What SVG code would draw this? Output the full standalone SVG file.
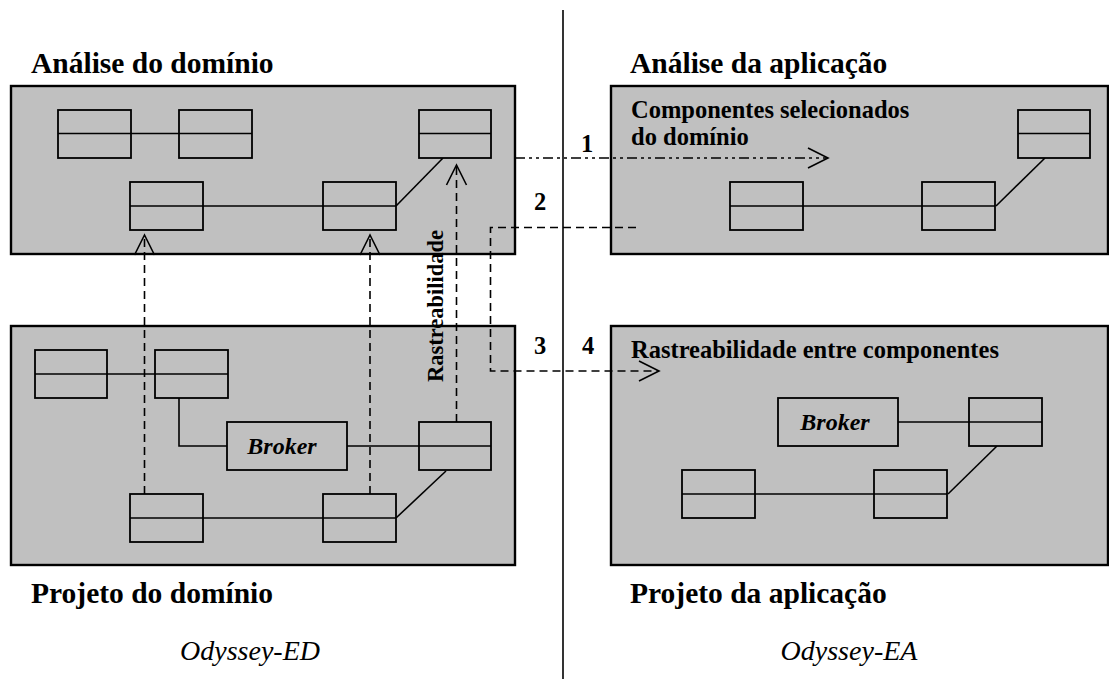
<svg xmlns="http://www.w3.org/2000/svg" width="1109" height="679" viewBox="0 0 1109 679">
<style>
.area{fill:#c0c0c0;stroke:#000;stroke-width:2.4}
.cls{fill:#c0c0c0;stroke:#000;stroke-width:1.8}
.ln{fill:none;stroke:#000;stroke-width:1.6}
.dash{fill:none;stroke:#000;stroke-width:1.6;stroke-dasharray:8,5}
.dd{fill:none;stroke:#000;stroke-width:1.6;stroke-dasharray:10,4,3,4,3,4}
.head{font-family:"Liberation Serif","Times New Roman",serif;font-weight:bold;font-size:29.5px;fill:#000}
.lbl{font-family:"Liberation Serif","Times New Roman",serif;font-weight:bold;font-size:24.5px;fill:#000}
.vert{font-family:"Liberation Serif","Times New Roman",serif;font-weight:bold;font-size:22.5px;fill:#000}
.brk{font-family:"Liberation Serif","Times New Roman",serif;font-weight:bold;font-style:italic;font-size:24px;fill:#000}
.tool{font-family:"Liberation Serif","Times New Roman",serif;font-style:italic;font-size:28px;fill:#000}
</style>
<defs>
<marker id="open" viewBox="0 0 24 24" refX="22" refY="12" markerWidth="24" markerHeight="24" markerUnits="userSpaceOnUse" orient="auto">
<path d="M2,2 L22,12 L2,22" fill="none" stroke="#000" stroke-width="1.6"/>
</marker>
</defs>

<line x1="563" y1="10" x2="563" y2="679" stroke="#000" stroke-width="1.6"/>

<g id="analise-dominio">
<rect class="area" x="11" y="86" width="504" height="168"/>
<text class="head" x="31" y="73">Análise do domínio</text>
</g>
<g id="analise-aplicacao">
<rect class="area" x="611" y="86" width="497" height="168"/>
<text class="head" x="630" y="73">Análise da aplicação</text>
<text class="lbl" x="631" y="118">Componentes selecionados</text>
<text class="lbl" x="631" y="145">do domínio</text>
</g>
<g id="projeto-dominio">
<rect class="area" x="11" y="326" width="504" height="239"/>
<text class="head" x="31" y="603">Projeto do domínio</text>
</g>
<g id="projeto-aplicacao">
<rect class="area" x="611" y="326" width="497" height="239"/>
<text class="head" x="630" y="603">Projeto da aplicação</text>
<text class="lbl" x="631" y="358">Rastreabilidade entre componentes</text>
</g>

<g id="ad-classes">
<line class="ln" x1="131" y1="133.5" x2="179" y2="133.5"/>
<line class="ln" x1="203" y1="206" x2="323" y2="206"/>
<line class="ln" x1="396" y1="206" x2="443" y2="158"/>
<g id="ad-c1"><rect class="cls" x="58" y="110" width="73" height="48"/><line class="ln" x1="58" y1="133.5" x2="131" y2="133.5"/></g>
<g id="ad-c2"><rect class="cls" x="179" y="110" width="73" height="48"/><line class="ln" x1="179" y1="133.5" x2="252" y2="133.5"/></g>
<g id="ad-c3"><rect class="cls" x="419" y="110" width="72" height="48"/><line class="ln" x1="419" y1="133.5" x2="491" y2="133.5"/></g>
<g id="ad-c4"><rect class="cls" x="130" y="182" width="73" height="48"/><line class="ln" x1="130" y1="206" x2="203" y2="206"/></g>
<g id="ad-c5"><rect class="cls" x="323" y="182" width="73" height="48"/><line class="ln" x1="323" y1="206" x2="396" y2="206"/></g>
</g>

<g id="aa-classes">
<line class="ln" x1="803" y1="206" x2="922" y2="206"/>
<line class="ln" x1="996" y1="206" x2="1045" y2="158"/>
<g id="aa-c1"><rect class="cls" x="1018" y="110" width="72" height="48"/><line class="ln" x1="1018" y1="133.5" x2="1090" y2="133.5"/></g>
<g id="aa-c2"><rect class="cls" x="730" y="182" width="73" height="48"/><line class="ln" x1="730" y1="206" x2="803" y2="206"/></g>
<g id="aa-c3"><rect class="cls" x="922" y="182" width="73" height="48"/><line class="ln" x1="922" y1="206" x2="995" y2="206"/></g>
</g>

<g id="pd-classes">
<line class="ln" x1="107" y1="374" x2="155" y2="374"/>
<polyline class="ln" points="179,398 179,446 227,446"/>
<line class="ln" x1="347" y1="446" x2="419" y2="446"/>
<line class="ln" x1="203" y1="518" x2="323" y2="518"/>
<line class="ln" x1="396" y1="518" x2="446" y2="471"/>
<g id="pd-c1"><rect class="cls" x="35" y="350" width="72" height="48"/><line class="ln" x1="35" y1="374" x2="107" y2="374"/></g>
<g id="pd-c2"><rect class="cls" x="155" y="350" width="73" height="48"/><line class="ln" x1="155" y1="374" x2="228" y2="374"/></g>
<g id="pd-broker"><rect class="cls" x="227" y="422" width="120" height="48"/><text class="brk" x="282" y="454" text-anchor="middle">Broker</text></g>
<g id="pd-c3"><rect class="cls" x="419" y="422" width="72" height="48"/><line class="ln" x1="419" y1="446" x2="491" y2="446"/></g>
<g id="pd-c4"><rect class="cls" x="130" y="494" width="73" height="48"/><line class="ln" x1="130" y1="518" x2="203" y2="518"/></g>
<g id="pd-c5"><rect class="cls" x="323" y="494" width="73" height="48"/><line class="ln" x1="323" y1="518" x2="396" y2="518"/></g>
</g>

<g id="pa-classes">
<line class="ln" x1="898" y1="422" x2="969" y2="422"/>
<line class="ln" x1="755" y1="494" x2="874" y2="494"/>
<line class="ln" x1="948" y1="494" x2="997" y2="446"/>
<g id="pa-broker"><rect class="cls" x="778" y="398" width="120" height="48"/><text class="brk" x="835" y="430" text-anchor="middle">Broker</text></g>
<g id="pa-c1"><rect class="cls" x="969" y="398" width="73" height="48"/><line class="ln" x1="969" y1="422" x2="1042" y2="422"/></g>
<g id="pa-c2"><rect class="cls" x="682" y="470" width="73" height="48"/><line class="ln" x1="682" y1="494" x2="755" y2="494"/></g>
<g id="pa-c3"><rect class="cls" x="874" y="470" width="73" height="48"/><line class="ln" x1="874" y1="494" x2="947" y2="494"/></g>
</g>

<g id="connectors">
<line class="dash" x1="144.5" y1="494" x2="144.5" y2="235" marker-end="url(#open)"/>
<line class="dash" x1="370" y1="494" x2="370" y2="235" marker-end="url(#open)"/>
<line class="dash" x1="456.5" y1="422" x2="456.5" y2="165" marker-end="url(#open)"/>
<line class="dd" x1="515" y1="158" x2="828" y2="158" marker-end="url(#open)"/>
<polyline class="dash" points="636,227.5 490.5,227.5 490.5,371 659,371" marker-end="url(#open)"/>
<text class="vert" x="443" y="306" text-anchor="middle" transform="rotate(-90 443 306)">Rastreabilidade</text>
<text class="lbl" x="587" y="152" text-anchor="middle">1</text>
<text class="lbl" x="540" y="210" text-anchor="middle">2</text>
<text class="lbl" x="540" y="354" text-anchor="middle">3</text>
<text class="lbl" x="588" y="354" text-anchor="middle">4</text>
</g>

<g id="tools">
<text class="tool" x="250" y="660" text-anchor="middle">Odyssey-ED</text>
<text class="tool" x="849" y="660" text-anchor="middle">Odyssey-EA</text>
</g>
</svg>
